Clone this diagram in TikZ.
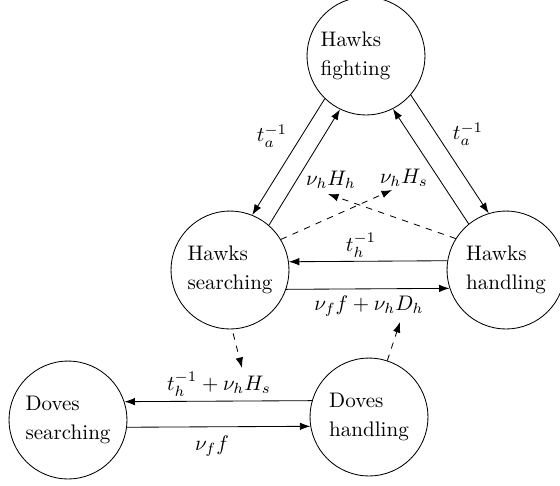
\documentclass[tikz,border=0pt]{standalone}
\usetikzlibrary{arrows.meta}
\begin{document}
\begin{tikzpicture}[x=0.475pt,y=-0.475pt,
  state/.style={circle,draw,minimum size=56pt,inner sep=0pt,align=left,font=\fontsize{10}{13.5}\selectfont},
  arr/.style={-{Latex[length=5pt,width=3.6pt]}},
  dep/.style={arr,dashed},
  lab/.style={inner sep=0pt}]
\useasboundingbox (0,0) rectangle (560,485);
% states
\node[state,text width=43pt] (hf) at (366,56) {Hawks\\fighting};
\node[state] (hs) at (230,270) {Hawks\\searching};
\node[state] (hh) at (506,270) {Hawks\\handling};
\node[state] (ds) at (68,420) {Doves\\searching};
\node[state] (dh) at (369,417) {Doves\\handling};
% labels
\node[lab] (lta1) at (272,136) {$t_a^{-1}$};
\node[lab] (lvHh) at (331,180) {$\nu_h H_h$};
\node[lab] (lvHs) at (404,178) {$\nu_h H_s$};
\node[lab] (lta2) at (468,134) {$t_a^{-1}$};
\node[lab] (lth) at (361,245) {$t_h^{-1}$};
\node[lab] (lvf) at (369,306) {$\nu_f f + \nu_h D_h$};
\node[lab] (lthd) at (219,384) {$t_h^{-1} + \nu_h H_s$};
\node[lab] (lvfd) at (212,446) {$\nu_f f$};
% transitions
\draw[arr] (hf.226.3) -- (hs.68.9);
\draw[arr] (hs.49.4) -- (hf.244);
\draw[arr] (hh.129.3) -- (hf.297.7);
\draw[arr] (hf.319.2) -- (hh.107.8);
\draw[arr] (hh.171.2) -- (hs.8.8);
\draw[arr] (hs.341.2) -- (hh.198.8);
\draw[arr] (dh.164.3) -- (ds.18.8);
\draw[arr] (ds.353.2) -- (dh.189.8);
% dependencies
\coordinate (tHh) at (328,194);
\coordinate (tHs) at (392,190);
\coordinate (tDs) at (242,368);
\coordinate (tDh) at (400,322);
\draw[dep] (hh.148.5) -- (tHh);
\draw[dep] (hs.31.1) -- (tHs);
\draw[dep,shorten <=2pt] (hs.272) -- (tDs);
\draw[dep] (dh.72) -- (tDh);
\end{tikzpicture}
\end{document}
